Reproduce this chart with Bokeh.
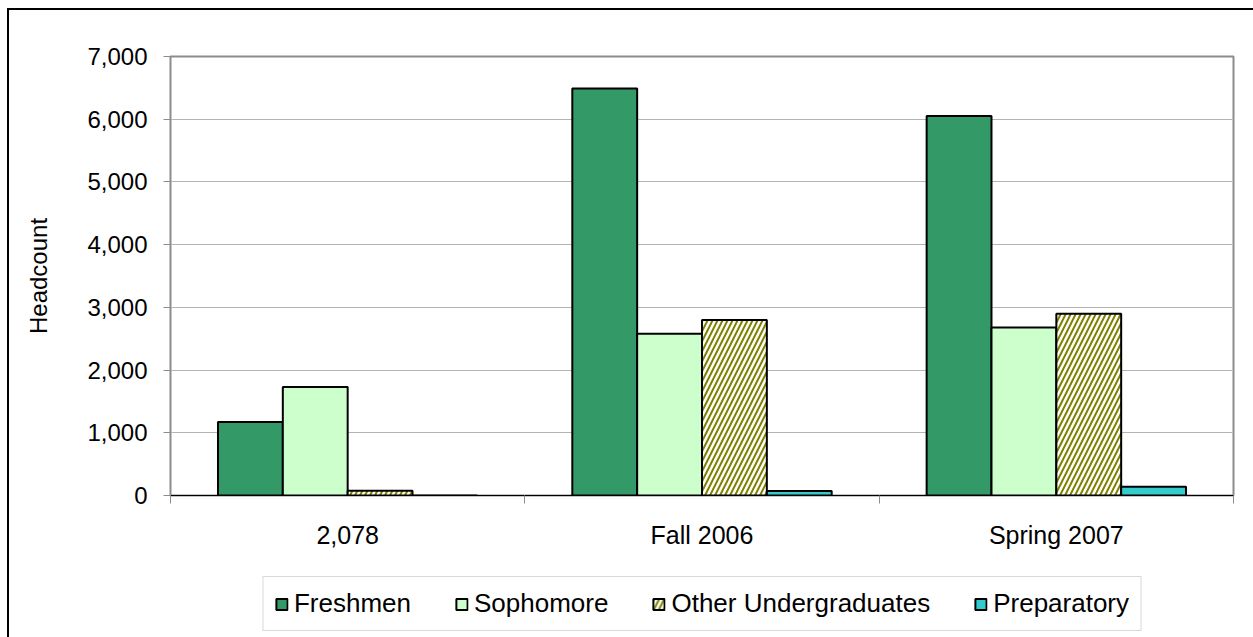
from bokeh.plotting import figure
from bokeh.layouts import column
from bokeh.models import (Range1d, FixedTicker, NumeralTickFormatter, Legend,
                          LegendItem, ColumnDataSource)
from bokeh.embed import file_html
from bokeh.resources import INLINE

groups = ["2,078", "Fall 2006", "Spring 2007"]
series = ["Freshmen", "Sophomore", "Other Undergraduates", "Preparatory"]
freshmen = [1170, 6490, 6050]
sophomore = [1730, 2580, 2680]
other_undergraduates = [75, 2800, 2900]
preparatory = [0, 70, 140]
y_ticks = [0, 1000, 2000, 3000, 4000, 5000, 6000, 7000]

values = [freshmen, sophomore, other_undergraduates, preparatory]
fills = ["#339966", "#CCFFCC", "white", "#33CCCC"]
bar_w = 0.183
offsets = [-1.5 * bar_w, -0.5 * bar_w, 0.5 * bar_w, 1.5 * bar_w]
FONT = "Liberation Sans"

p = figure(width=1244, height=550, x_range=Range1d(0, 3), y_range=Range1d(0, 7000),
           output_backend="svg", toolbar_location=None,
           min_border_left=161, min_border_top=46, min_border_right=20,
           min_border_bottom=65, background_fill_color="white",
           border_fill_color="white")

p.outline_line_color = "#8c8c8c"
p.outline_line_width = 2

p.xgrid.visible = False
p.ygrid.grid_line_color = "#b4b4b4"
p.ygrid.grid_line_width = 1
p.ygrid.ticker = FixedTicker(ticks=y_ticks)

# y axis
p.yaxis.ticker = FixedTicker(ticks=y_ticks)
p.yaxis.formatter = NumeralTickFormatter(format="0,0")
p.yaxis.axis_label = "Headcount"
p.yaxis.axis_label_text_font = FONT
p.yaxis.axis_label_text_font_style = "normal"
p.yaxis.axis_label_text_font_size = "24px"
p.yaxis.axis_label_text_color = "black"
p.yaxis.axis_label_standoff = 32
p.yaxis.major_label_text_font = FONT
p.yaxis.major_label_text_font_size = "24px"
p.yaxis.major_label_text_color = "black"
p.yaxis.major_label_standoff = 16
p.yaxis.major_tick_out = 7
p.yaxis.major_tick_in = 0
p.yaxis.minor_tick_out = 0
p.yaxis.minor_tick_in = 0
p.yaxis.axis_line_color = "#8c8c8c"
p.yaxis.major_tick_line_color = "#8c8c8c"

# x axis: labels at group centres, ticks at group boundaries
centres = [i + 0.5 for i in range(len(groups))]
bounds = [i for i in range(len(groups) + 1)]
p.xaxis.ticker = FixedTicker(ticks=centres, minor_ticks=bounds)
p.xaxis.major_label_overrides = {c: g for c, g in zip(centres, groups)}
p.xaxis.major_label_text_font = FONT
p.xaxis.major_label_text_font_size = "25px"
p.xaxis.major_label_text_color = "black"
p.xaxis.major_label_standoff = 17
p.xaxis.major_tick_out = 0
p.xaxis.major_tick_in = 0
p.xaxis.minor_tick_out = 8
p.xaxis.minor_tick_in = 0
p.xaxis.minor_tick_line_color = "#8c8c8c"
p.xaxis.axis_line_color = "black"


def bar_style(name, fill):
    kw = dict(fill_color=fill, line_color="black", line_width=2)
    if name == "Other Undergraduates":
        kw.update(hatch_pattern="/", hatch_color="#808000", hatch_scale=10,
                  hatch_weight=2)
    return kw


for name, vals, fill, off in zip(series, values, fills, offsets):
    src = ColumnDataSource(dict(x=[c + off for c in centres], top=vals))
    p.vbar(x="x", top="top", width=bar_w, source=src, **bar_style(name, fill))

# legend strip under the chart (same side borders so the frames line up)
lg = figure(width=1244, height=77, x_range=Range1d(0, 1), y_range=Range1d(0, 1),
            output_backend="svg", toolbar_location=None,
            min_border_left=161, min_border_right=20, min_border_top=5,
            min_border_bottom=2, background_fill_color="white",
            border_fill_color="white")
lg.axis.visible = False
lg.grid.visible = False
lg.outline_line_color = None

items = []
for name, fill in zip(series, fills):
    # zero-size placeholder hidden behind the legend box, used for the swatch
    r = lg.vbar(x=[0.5], top=[0.5], bottom=[0.5], width=0, **bar_style(name, fill))
    items.append(LegendItem(label=name, renderers=[r]))

legend = Legend(items=items, orientation="horizontal", location="bottom_center")
legend.label_text_font = FONT
legend.label_text_font_size = "26px"
legend.label_text_color = "black"
legend.glyph_width = 14
legend.glyph_height = 14
legend.label_standoff = 6
legend.spacing = 43
legend.padding = 11
legend.margin = 4
legend.border_line_color = "#b4b4b4"
legend.border_line_width = 1
legend.background_fill_color = "white"
legend.background_fill_alpha = 1
lg.add_layout(legend, "center")

layout = column(p, lg, spacing=0)
layout.styles = {"margin-left": "7px", "margin-top": "8px",
                 "border-left": "2px solid black", "border-top": "2px solid black"}

open("out.html", "w").write(file_html(layout, INLINE))
